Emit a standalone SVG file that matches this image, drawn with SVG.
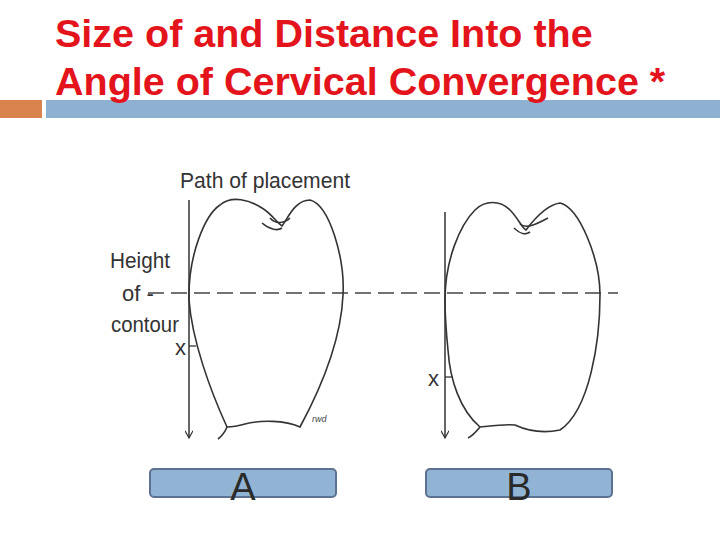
<svg xmlns="http://www.w3.org/2000/svg" width="720" height="540" viewBox="0 0 720 540">
<style>
.t{font-family:"Liberation Sans",Arial,sans-serif;font-weight:bold;font-size:39.5px;fill:#e3141b}
.o{fill:none;stroke:#333;stroke-width:1.6}
.d{font-family:"Liberation Sans Narrow","Liberation Sans",sans-serif;font-size:22px;fill:#333}
.box{fill:#92b4d4;stroke:#5d7290;stroke-width:2}
.lb{font-family:"Liberation Sans",Arial,sans-serif;font-size:38px;fill:#2a2a2a;text-anchor:middle}
</style>
<defs><marker id="ar" viewBox="0 0 10 10" refX="9" refY="5" markerWidth="10" markerHeight="8" orient="auto" markerUnits="userSpaceOnUse"><path d="M0 0 L9 5 L0 10" fill="none" stroke="#333" stroke-width="1.5"/></marker></defs>
<rect width="720" height="540" fill="#fff"/>
<g id="title">
<rect x="0" y="100" width="42" height="18" fill="#d9844f"/>
<rect x="46" y="100" width="674" height="18" fill="#8fb1d1"/>
<text class="t" x="55" y="47">Size of and Distance Into the</text>
<text class="t" x="55" y="95">Angle of Cervical Convergence *</text>
</g>
<g id="connectors">
<line x1="148" y1="293" x2="618" y2="293" stroke="#444" stroke-width="1.6" stroke-dasharray="16,7"/>
<line x1="189" y1="200" x2="189" y2="438" stroke="#333" stroke-width="1.5" marker-end="url(#ar)"/>
<line x1="445" y1="212" x2="445" y2="438" stroke="#333" stroke-width="1.5" marker-end="url(#ar)"/>
<line x1="189" y1="346" x2="196" y2="346" stroke="#333" stroke-width="1.3"/>
<line x1="445" y1="377" x2="453" y2="377" stroke="#333" stroke-width="1.3"/>
</g>
<g id="toothA">
<path class="o" d="M189 300 C188 255 205 215 220 205 C232 195 250 200 262 208 C272 214 276 222 282 226 C288 218 295 200 310 200 C330 205 345 260 343 295 C341 340 320 390 300 427 C285 420 260 420 245 424 C238 426 232 427 227 427 C210 390 192 340 189 300 Z"/>
<path class="o" d="M227 427 C225 432 222 436 218 439"/>
<path class="o" d="M262 223 C270 230 278 231 282 228 M270 218 C276 225 285 223 290 218" stroke-width="1.1"/>
<text class="d" x="180" y="188" textLength="170" lengthAdjust="spacingAndGlyphs">Path of placement</text>
<text class="d" x="110" y="268" textLength="60" lengthAdjust="spacingAndGlyphs">Height</text>
<text class="d" x="122" y="301">of -</text>
<text class="d" x="111" y="332" textLength="68" lengthAdjust="spacingAndGlyphs">contour</text>
<text class="d" x="175" y="355">x</text>
<text x="312" y="422" font-family="Liberation Sans,sans-serif" font-size="9" font-style="italic" fill="#444">rwd</text>
</g>
<g id="toothB">
<path class="o" d="M445 300 C445 260 460 225 475 210 C485 200 500 200 510 210 C518 218 522 228 526 230 C532 222 545 205 560 203 C580 208 600 260 600 295 C600 340 590 410 560 430 C545 433 530 432 515 425 C505 424 490 426 480 427 C460 410 450 380 448 350 C446 330 445 315 445 300 Z"/>
<path class="o" d="M480 427 C476 432 472 436 468 438"/>
<path class="o" d="M514 228 C520 234 526 235 530 232 M520 224 C526 229 535 225 548 218" stroke-width="1.1"/>
<text class="d" x="428" y="386">x</text>
</g>
<g id="labelA"><rect class="box" x="150" y="469" width="186" height="28" rx="4"/><text class="lb" x="243" y="500">A</text></g>
<g id="labelB"><rect class="box" x="426" y="469" width="186" height="28" rx="4"/><text class="lb" x="519" y="500">B</text></g>
</svg>
